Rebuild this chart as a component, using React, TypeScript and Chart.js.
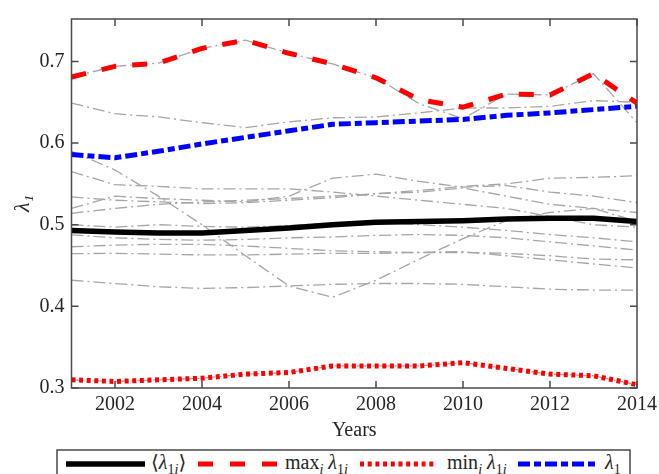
import React, { useEffect, useRef } from "react";
import { Chart, registerables } from "chart.js";

Chart.register(...registerables);

const YEARS = [2001, 2002, 2003, 2004, 2005, 2006, 2007, 2008, 2009, 2010, 2011, 2012, 2013, 2014];

const MEAN = [0.493, 0.491, 0.490, 0.490, 0.493, 0.496, 0.500, 0.503, 0.504, 0.505, 0.507, 0.508, 0.508, 0.504];
const MAX = [0.681, 0.694, 0.698, 0.716, 0.726, 0.710, 0.697, 0.680, 0.653, 0.644, 0.660, 0.659, 0.685, 0.649];
const MIN = [0.310, 0.308, 0.310, 0.312, 0.317, 0.319, 0.327, 0.327, 0.327, 0.331, 0.324, 0.317, 0.315, 0.304];
const LAMBDA1 = [0.586, 0.582, 0.590, 0.599, 0.607, 0.615, 0.623, 0.625, 0.627, 0.629, 0.634, 0.637, 0.641, 0.645];

const IND_1 = [0.681, 0.694, 0.698, 0.716, 0.726, 0.710, 0.697, 0.680, 0.648, 0.630, 0.660, 0.659, 0.685, 0.625];
const IND_2 = [0.649, 0.636, 0.632, 0.625, 0.619, 0.626, 0.631, 0.632, 0.637, 0.643, 0.643, 0.645, 0.652, 0.650];
const IND_3 = [0.590, 0.567, 0.535, 0.500, 0.462, 0.425, 0.411, 0.432, 0.458, 0.483, 0.505, 0.515, 0.520, 0.515];
const IND_4 = [0.565, 0.549, 0.547, 0.544, 0.544, 0.544, 0.540, 0.535, 0.530, 0.525, 0.520, 0.510, 0.500, 0.497];
const IND_5 = [0.520, 0.535, 0.532, 0.530, 0.528, 0.535, 0.557, 0.562, 0.553, 0.546, 0.548, 0.540, 0.535, 0.527];
const IND_6 = [0.514, 0.520, 0.525, 0.528, 0.530, 0.532, 0.535, 0.538, 0.542, 0.547, 0.550, 0.557, 0.558, 0.560];
const IND_7 = [0.534, 0.530, 0.528, 0.526, 0.527, 0.530, 0.533, 0.538, 0.540, 0.545, 0.535, 0.525, 0.520, 0.504];
const IND_8 = [0.500, 0.497, 0.500, 0.498, 0.497, 0.499, 0.502, 0.503, 0.500, 0.497, 0.493, 0.488, 0.484, 0.479];
const IND_9 = [0.4875, 0.484, 0.482, 0.481, 0.482, 0.484, 0.485, 0.487, 0.488, 0.487, 0.484, 0.479, 0.474, 0.469];
const IND_10 = [0.473, 0.475, 0.476, 0.476, 0.474, 0.471, 0.468, 0.467, 0.466, 0.466, 0.465, 0.462, 0.458, 0.457];
const IND_11 = [0.4645, 0.465, 0.464, 0.463, 0.463, 0.464, 0.465, 0.465, 0.466, 0.467, 0.462, 0.457, 0.452, 0.447];
const IND_12 = [0.432, 0.428, 0.424, 0.422, 0.423, 0.425, 0.427, 0.428, 0.428, 0.427, 0.424, 0.421, 0.420, 0.420];
const IND_13 = [0.310, 0.308, 0.310, 0.312, 0.317, 0.319, 0.327, 0.327, 0.327, 0.331, 0.324, 0.317, 0.315, 0.304];

const INDIVIDUALS = [IND_1, IND_2, IND_3, IND_4, IND_5, IND_6, IND_7, IND_8, IND_9, IND_10, IND_11, IND_12, IND_13];

const X_TICKS = [2002, 2004, 2006, 2008, 2010, 2012, 2014];
const Y_TICKS = [0.3, 0.4, 0.5, 0.6, 0.7];

const X_MIN = 2001;
const X_MAX = 2014;
const Y_MIN = 0.3;
const Y_MAX = 0.752;

const FONT = '"Liberation Serif", "Times New Roman", Times, "DejaVu Serif", "Nimbus Roman", serif';
const TEXT = "#262626";
const FRAME = "#4a4a4a";

const toXY = (vals: number[]) => YEARS.map((yr, i) => ({ x: yr, y: vals[i] }));

const framePlugin = {
  id: "frame",
  afterDatasetsDraw(chart: any) {
    const { ctx, chartArea: a, scales } = chart;
    const x = scales.x;
    const y = scales.y;
    const tl = 7;
    ctx.save();
    ctx.strokeStyle = FRAME;
    ctx.lineWidth = 1.5;
    ctx.strokeRect(a.left, a.top, a.right - a.left, a.bottom - a.top);
    ctx.beginPath();
    x.ticks.forEach((t: any) => {
      const px = x.getPixelForValue(t.value);
      ctx.moveTo(px, a.bottom);
      ctx.lineTo(px, a.bottom - tl);
      ctx.moveTo(px, a.top);
      ctx.lineTo(px, a.top + tl);
    });
    y.ticks.forEach((t: any) => {
      const py = y.getPixelForValue(t.value);
      ctx.moveTo(a.left, py);
      ctx.lineTo(a.left + tl, py);
      ctx.moveTo(a.right, py);
      ctx.lineTo(a.right - tl, py);
    });
    ctx.stroke();
    ctx.restore();
  },
};

export default function App() {
  const canvasRef = useRef<HTMLCanvasElement | null>(null);

  useEffect(() => {
    if (!canvasRef.current) return;
    Chart.defaults.font.family = FONT;
    const mainSets = [
      { label: "mean", data: toXY(MEAN), borderColor: "#000000", borderWidth: 5.5, borderDash: [] },
      { label: "max", data: toXY(MAX), borderColor: "#ff0000", borderWidth: 5, borderDash: [15, 16] },
      { label: "min", data: toXY(MIN), borderColor: "#ff0000", borderWidth: 5, borderDash: [4, 3.6] },
      { label: "lambda1", data: toXY(LAMBDA1), borderColor: "#0000ff", borderWidth: 5, borderDash: [12, 4, 7, 4] },
    ];
    const greySets = INDIVIDUALS.map((vals, i) => ({
      label: "ind" + (i + 1),
      data: toXY(vals),
      borderColor: "#a6a6a6",
      borderWidth: 1.3,
      borderDash: [12, 4, 2, 4],
    }));
    const datasets = [...mainSets, ...greySets].map((d) => ({
      ...d,
      pointRadius: 0,
      pointHoverRadius: 0,
      tension: 0,
      fill: false,
      borderCapStyle: "butt" as const,
      borderJoinStyle: "round" as const,
    }));

    const chart = new Chart(canvasRef.current, {
      type: "line",
      data: { datasets },
      options: {
        animation: false,
        responsive: false,
        events: [],
        layout: { padding: { top: 15, right: 22, left: 0, bottom: 0 } },
        plugins: {
          legend: { display: false },
          tooltip: { enabled: false },
        },
        scales: {
          x: {
            type: "linear",
            min: X_MIN,
            max: X_MAX,
            grid: { display: false, drawTicks: false, tickLength: 0 },
            border: { display: false },
            afterBuildTicks: (scale: any) => {
              scale.ticks = X_TICKS.map((v) => ({ value: v }));
            },
            afterFit: (scale: any) => {
              scale.height = 55;
              scale.paddingLeft = 0;
              scale.paddingRight = 0;
            },
            ticks: {
              autoSkip: false,
              maxRotation: 0,
              padding: 5,
              color: TEXT,
              font: { family: FONT, size: 20 },
              callback: (v: any) => String(v),
            },
            title: {
              display: true,
              text: "Years",
              color: TEXT,
              font: { family: FONT, size: 20 },
              padding: { top: 0, bottom: 0 },
            },
          },
          y: {
            type: "linear",
            min: Y_MIN,
            max: Y_MAX,
            grid: { display: false, drawTicks: false, tickLength: 0 },
            border: { display: false },
            afterBuildTicks: (scale: any) => {
              scale.ticks = Y_TICKS.map((v) => ({ value: v }));
            },
            afterFit: (scale: any) => {
              scale.width = 71.5;
            },
            ticks: {
              padding: 7,
              color: TEXT,
              font: { family: FONT, size: 20 },
              callback: (v: any) => Number(v).toFixed(1),
            },
            title: {
              display: true,
              text: "λ₁",
              color: TEXT,
              font: { family: FONT, size: 22, style: "italic" },
              padding: { top: 10, bottom: 0 },
            },
          },
        },
      },
      plugins: [framePlugin],
    });
    return () => chart.destroy();
  }, []);

  const sub = { fontSize: 14 };

  return (
    <div
      style={{
        position: "fixed",
        left: 0,
        top: 0,
        width: 659,
        height: 474,
        background: "#ffffff",
        overflow: "hidden",
        fontFamily: FONT,
      }}
    >
      <canvas ref={canvasRef} width={659} height={443} style={{ position: "absolute", left: 0, top: 0 }} />
      <svg
        width={659}
        height={34}
        style={{ position: "absolute", left: 0, top: 440, fontFamily: FONT }}
        fontSize={20}
        fill={TEXT}
      >
        <rect x={57} y={10} width={573} height={40} fill="#ffffff" stroke={FRAME} strokeWidth={1.5} />
        <line x1={66} x2={145} y1={24} y2={24} stroke="#000000" strokeWidth={5.5} />
        <text x={151} y={29}>
          ⟨<tspan fontStyle="italic">λ</tspan>
          <tspan dy={5} style={sub}>1</tspan>
          <tspan style={sub} fontStyle="italic">i</tspan>
          <tspan dy={-5}>⟩</tspan>
        </text>
        <line x1={198} x2={278} y1={24} y2={24} stroke="#ff0000" strokeWidth={5} strokeDasharray="15 17" />
        <text x={285} y={29}>
          max<tspan dy={5} style={sub} fontStyle="italic">i</tspan>
          <tspan dy={-5} fontStyle="italic"> λ</tspan>
          <tspan dy={5} style={sub}>1</tspan>
          <tspan style={sub} fontStyle="italic">i</tspan>
        </text>
        <line x1={360} x2={437} y1={24} y2={24} stroke="#ff0000" strokeWidth={5} strokeDasharray="4 3.7" />
        <text x={447} y={29}>
          min<tspan dy={5} style={sub} fontStyle="italic">i</tspan>
          <tspan dy={-5} fontStyle="italic"> λ</tspan>
          <tspan dy={5} style={sub}>1</tspan>
          <tspan style={sub} fontStyle="italic">i</tspan>
        </text>
        <line x1={518} x2={598} y1={24} y2={24} stroke="#0000ff" strokeWidth={5} strokeDasharray="12 4 7 4" />
        <text x={605} y={29}>
          <tspan fontStyle="italic">λ</tspan>
          <tspan dy={5} style={sub}>1</tspan>
        </text>
      </svg>
    </div>
  );
}
